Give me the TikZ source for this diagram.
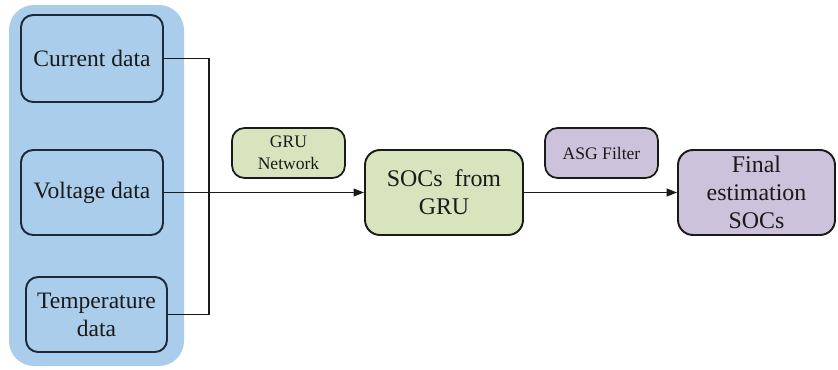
\documentclass[tikz,border=0pt]{standalone}
\usepackage{fontspec}
\setmainfont{Liberation Serif}
\usepackage{xcolor}
\usetikzlibrary{arrows.meta}
\definecolor{panel}{HTML}{A9CDEA}
\definecolor{navy}{HTML}{1C2B3C}
\definecolor{ink}{HTML}{1A1A1A}
\definecolor{sage}{HTML}{D8E4BE}
\definecolor{lilac}{HTML}{CCC2DB}
\tikzset{
  inbox/.style={draw=navy, line width=1.1pt, rounded corners=0.24cm, align=center,
    text=ink, font=\fontsize{13.4}{16}\selectfont, minimum width=2.84cm, inner sep=0pt},
  stage/.style={draw=ink, line width=1.1pt, rounded corners=0.3cm, align=center,
    text=ink, font=\fontsize{13.6}{16}\selectfont, minimum width=3.16cm, minimum height=1.7cm, inner sep=0pt},
  tag/.style={draw=ink, line width=1pt, rounded corners=0.25cm, align=center,
    text=ink, font=\fontsize{10}{12.3}\selectfont, minimum width=2.26cm, minimum height=1.0cm, inner sep=0pt},
  wire/.style={draw=ink, line width=0.6pt},
  flow/.style={draw=ink, line width=1pt, -{Triangle[length=6pt,width=4.5pt]}},
}
\begin{document}
\begin{tikzpicture}[x=0.02cm, y=-0.02cm]
  \useasboundingbox (0,0) rectangle (838,369);
  % input panel
  \fill[panel, rounded corners=0.5cm] (9,5) rectangle (184,366);
  \node[inbox, minimum height=1.74cm] (cur) at (92,58.5) {Current data};
  \node[inbox, minimum height=1.70cm] (volt) at (92,192.5) {Voltage data};
  \node[inbox, minimum width=2.82cm, minimum height=1.5cm] (temp) at (96.5,314.5) {Temperature\\data};
  % stages
  \node[tag, fill=sage] (grunet) at (288.5,153) {GRU\\Network};
  \node[stage, fill=sage] (socs) at (444,192.5) {SOCs\ \ from\\GRU};
  \node[tag, fill=lilac] (asg) at (601.5,153) {ASG Filter};
  \node[stage, fill=lilac, minimum width=3.14cm] (final) at (756.5,192.5) {Final\\estimation\\SOCs};
  % connectors
  \coordinate (bus) at (209,0);
  \draw[wire] (cur.east) -- (cur.east -| bus) -- (temp.east -| bus) -- (temp.east);
  \draw[wire, -{Triangle[length=6pt,width=4.5pt]}] (volt.east) -- (socs.west);
  \draw[flow] (socs.east) -- (final.west);
\end{tikzpicture}
\end{document}
